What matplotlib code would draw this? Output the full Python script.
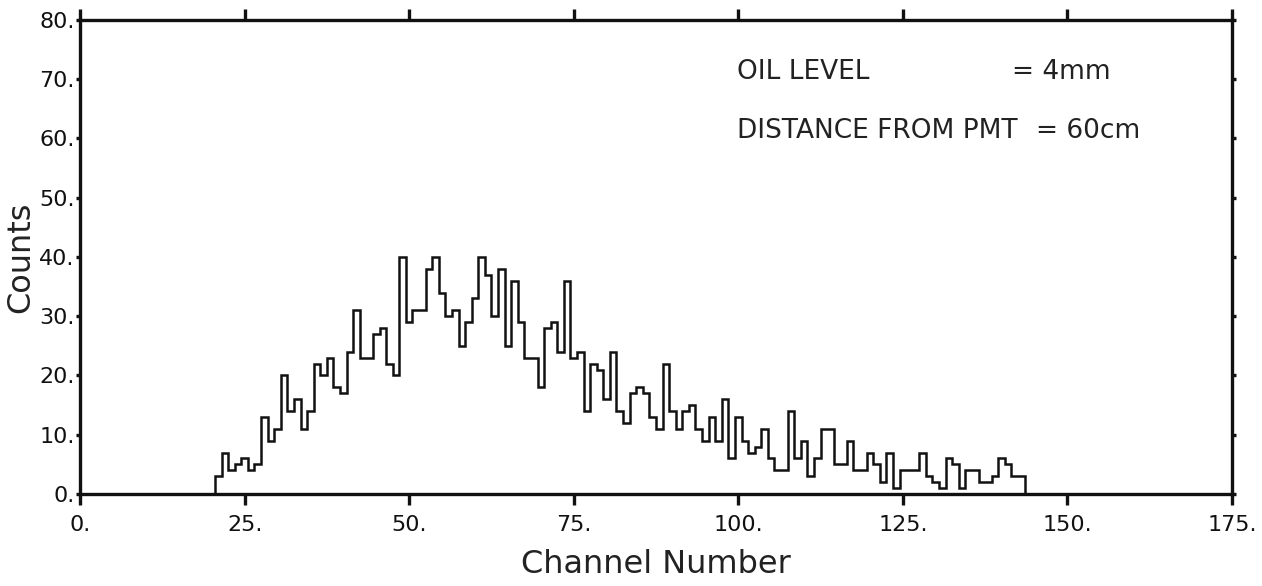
import matplotlib.pyplot as plt
import numpy as np

# channel numbers (bin centres) and counts
channels = np.arange(21, 144)
counts = [3, 7, 4, 5, 6, 4, 5, 13, 9, 11,
          20, 14, 16, 11, 14, 22, 20, 23, 18, 17,
          24, 31, 23, 23, 27, 28, 22, 20, 40, 29,
          31, 31, 38, 40, 34, 30, 31, 25, 29, 33,
          40, 37, 30, 38, 25, 36, 29, 23, 23, 18,
          28, 29, 24, 36, 23, 24, 14, 22, 21, 16,
          24, 14, 12, 17, 18, 17, 13, 11, 22, 14,
          11, 14, 15, 11, 9, 13, 9, 16, 6, 13,
          9, 7, 8, 11, 6, 4, 4, 14, 6, 9,
          3, 6, 11, 11, 5, 5, 9, 4, 4, 7,
          5, 2, 7, 1, 4, 4, 4, 7, 3, 2,
          1, 6, 5, 1, 4, 4, 2, 2, 3, 6,
          5, 3, 3]

xticks = [0, 25, 50, 75, 100, 125, 150, 175]
yticks = [0, 10, 20, 30, 40, 50, 60, 70, 80]

edges = np.append(channels - 0.5, channels[-1] + 0.5)

fig = plt.figure(figsize=(12.62, 5.86), dpi=100)
ax = fig.add_axes([0.0634, 0.157, 0.9128, 0.8089])

ax.stairs(counts, edges, baseline=0, color='#111111', linewidth=1.8)

ax.set_xlim(0, 175)
ax.set_ylim(0, 80)
ax.set_xticks(xticks)
ax.set_xticklabels([str(t) + '.' for t in xticks])
ax.set_yticks(yticks)
ax.set_yticklabels([str(t) + '.' for t in yticks])

for s in ax.spines.values():
    s.set_linewidth(2.4)
    s.set_color('#111111')

ax.tick_params(axis='x', direction='out', length=8, width=2.4, labelsize=16,
               top=True, colors='#111111', pad=7)
ax.tick_params(axis='y', direction='out', length=3, width=2.4, labelsize=16,
               right=True, colors='#111111', pad=1)

ax.set_xlabel('Channel Number', fontsize=23, color='#222222', labelpad=10)
ax.set_ylabel('Counts', fontsize=23, color='#222222', labelpad=2)

ax.text(99.8, 71.2, 'OIL LEVEL', fontsize=19, va='center', color='#222222')
ax.text(141.6, 71.2, '= 4mm', fontsize=19, va='center', color='#222222')
ax.text(99.8, 61.3, 'DISTANCE FROM PMT', fontsize=19, va='center', color='#222222')
ax.text(145.2, 61.3, '= 60cm', fontsize=19, va='center', color='#222222')

fig.savefig('out.png', dpi=100)
